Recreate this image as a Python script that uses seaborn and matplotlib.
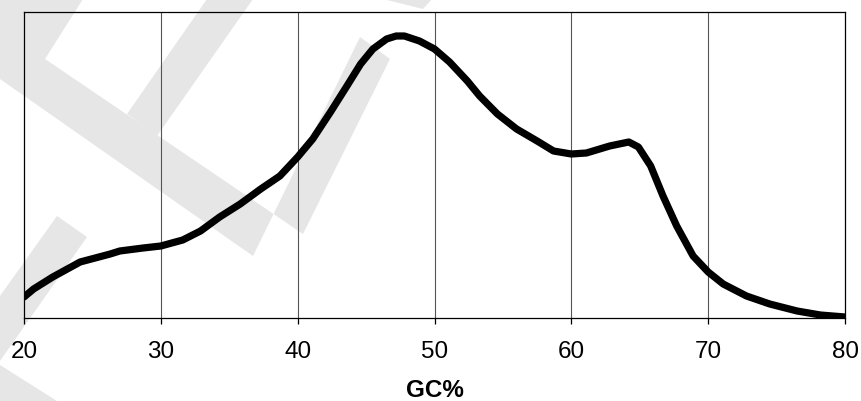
import numpy as np
import pandas as pd
import matplotlib
matplotlib.use("Agg")
import matplotlib.pyplot as plt
from matplotlib.patches import Polygon
import seaborn as sns

### data ###
gc = [20, 20.7, 22.1, 24.1, 26.3, 27, 28.7, 30, 31.6, 32.9, 34.3, 35.8, 37.3, 38.7,
      40, 41.1, 42.4, 43.6, 44.6, 45.5, 46.5, 47.2, 47.8, 48.9, 50, 51.1, 52.4, 53.3,
      54.6, 56, 57.5, 58.7, 60, 61.1, 62.8, 64.2, 64.9, 65.8, 66.7, 67.7, 68.9, 70,
      71.1, 72.8, 74.5, 76.5, 78.2, 80]
freq = [21, 29, 41, 56, 64, 67, 70, 72, 78, 87, 101, 114, 129, 142,
        161, 179, 206, 232, 254, 269, 279, 282, 282, 277, 269, 256, 237, 222,
        204, 189, 177, 167, 164, 165, 172, 176, 171, 152, 122, 92, 62, 46,
        34, 22, 14, 7, 3, 1]
x_ticks = [20, 30, 40, 50, 60, 70, 80]

df = pd.DataFrame({"GC%": gc, "freq": freq})

sns.set_style("white")
plt.rcParams['font.family'] = ['Liberation Sans', 'DejaVu Sans']
plt.rcParams['text.color'] = 'black'
plt.rcParams['axes.labelcolor'] = 'black'
plt.rcParams['xtick.color'] = 'black'

fig = plt.figure(figsize=(8.61, 4.02), dpi=100)

# light grey watermark strokes behind the chart (figure pixel space)
bg = fig.add_axes([0, 0, 1, 1], zorder=0)
bg.set_xlim(0, 861)
bg.set_ylim(402, 0)
bg.axis("off")
wm = "#e6e6e6"
shapes = [
    [(0, 0), (83, 0), (45, 60), (303, 235), (390, 60), (360, 38), (253, 257), (0, 80)],
    [(127, 115), (207, 0), (253, 0), (157, 137)],
    [(57, 217), (87, 238), (0, 362), (0, 297)],
    [(0, 366), (0, 402), (57, 402)],
    [(383, 0), (432, 0), (423, 10)],
]
for s in shapes:
    bg.add_patch(Polygon(s, closed=True, facecolor=wm, edgecolor="none"))

ax = fig.add_axes([24 / 861, 1 - 319 / 402, 821 / 861, 306 / 402], zorder=1)
ax.patch.set_alpha(0)

sns.lineplot(data=df, x="GC%", y="freq", ax=ax, color="black", lw=5.2,
             solid_capstyle="round", solid_joinstyle="round", zorder=3)

ax.set_xlim(20, 80)
ax.set_ylim(0, 306)
ax.set_xticks(x_ticks)
ax.set_yticks([])
ax.set_ylabel("")
for xv in x_ticks[1:-1]:
    ax.axvline(xv, color="#555555", lw=0.8, zorder=1)
for sp in ax.spines.values():
    sp.set_visible(True)
    sp.set_color("black")
    sp.set_linewidth(0.9)
ax.tick_params(axis="x", bottom=True, direction="out", length=4.5, width=0.9,
               color="black", labelcolor="black", pad=11, labelsize=17.5)
ax.set_xlabel("GC%", fontsize=17.5, fontweight="bold", labelpad=12, color="black")

fig.savefig("out.png", dpi=100)
